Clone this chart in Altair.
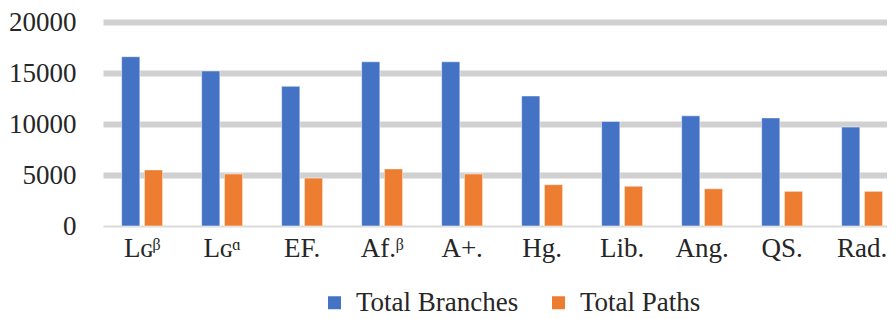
import altair as alt
import pandas as pd

categories = ["Lɢᵝ", "Lɢᵅ", "EF.", "Af.ᵝ", "A+.", "Hg.", "Lib.", "Ang.", "QS.", "Rad."]
branches = [16600, 15200, 13700, 16100, 16100, 12750, 10250, 10800, 10600, 9700]
paths = [5500, 5100, 4700, 5600, 5100, 4050, 3900, 3650, 3400, 3400]
series = ["Total Branches", "Total Paths"]
colors = ["#4472C4", "#ED7D31"]
y_ticks = [0, 5000, 10000, 15000, 20000]

rows = []
for c, b, p in zip(categories, branches, paths):
    rows.append({"cat": c, "series": series[0], "value": b})
    rows.append({"cat": c, "series": series[1], "value": p})
df = pd.DataFrame(rows)

FONT = "Liberation Serif"

chart = alt.Chart(df).mark_bar(stroke="white", strokeWidth=1, strokeOpacity=0.5).encode(
    x=alt.X(
        "cat:N",
        sort=categories,
        scale=alt.Scale(paddingInner=0.4875, paddingOuter=0.14375, align=0.81),
        axis=alt.Axis(title=None, labelAngle=0, domain=False, ticks=False,
                      labelFont=FONT, labelFontSize=27, labelColor="#262626",
                      labelPadding=9),
    ),
    xOffset=alt.XOffset("series:N", sort=series, scale=alt.Scale(paddingInner=0.2)),
    y=alt.Y(
        "value:Q",
        scale=alt.Scale(domain=[0, 20000]),
        axis=alt.Axis(values=y_ticks, format="d", title=None, domain=False, ticks=False,
                      labelFont=FONT, labelFontSize=27, labelColor="#262626",
                      labelPadding=27,
                      gridColor={"condition": {"test": "datum.value === 0", "value": "#D9D9D9"}, "value": "#D0D0D0"},
                      gridWidth={"condition": {"test": "datum.value === 0", "value": 2}, "value": 6}),
    ),
    color=alt.Color(
        "series:N",
        sort=series,
        scale=alt.Scale(domain=series, range=colors),
        legend=alt.Legend(orient="none", legendX=218, legendY=267, direction="horizontal",
                          title=None, symbolType="square", symbolSize=169,
                          symbolStrokeWidth=0, labelFont=FONT, labelFontSize=27,
                          labelLimit=0,
                          labelColor="#262626", labelOffset=8, columnPadding=26),
    ),
).properties(width=784, height=204, padding=0).configure_view(stroke=None)

chart.save("out.html", embed_options={"renderer": "svg", "actions": False})
